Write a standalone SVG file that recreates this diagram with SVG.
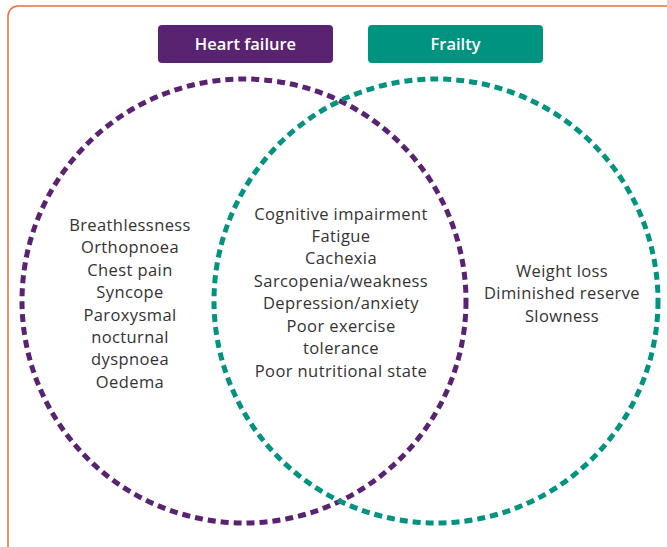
<svg xmlns="http://www.w3.org/2000/svg" width="667" height="547" viewBox="0 0 667 547">
  <style>
    .frame { fill: #ffffff; stroke: #e8703a; stroke-width: 1.5; }
    .ring { fill: none; stroke-width: 5; stroke-dasharray: 8 5; }
    .hf { stroke: #5a2371; }
    .fr { stroke: #00937f; }
    .tag { stroke: none; }
    .tag-text { font-family: "Open Sans", "Liberation Sans", sans-serif; font-size: 16.5px; font-weight: 600; fill: #ffffff; text-anchor: middle; }
    .item { font-family: "Open Sans", "Liberation Sans", sans-serif; font-size: 16.5px; letter-spacing: 0.4px; fill: #333333; text-anchor: middle; }
  </style>

  <rect class="frame" x="8" y="6" width="680" height="560" rx="10" ry="10"/>

  <g id="circles">
    <circle class="ring hf" cx="244" cy="301" r="222"/>
    <circle class="ring fr" cx="436" cy="301" r="222"/>
  </g>

  <g id="heart-failure-label">
    <rect class="tag" x="158" y="25" width="175" height="38" rx="4" fill="#5a2371"/>
    <text class="tag-text" x="245.5" y="50">Heart failure</text>
  </g>

  <g id="frailty-label">
    <rect class="tag" x="368" y="25" width="175" height="38" rx="4" fill="#00937f"/>
    <text class="tag-text" x="455.5" y="50">Frailty</text>
  </g>

  <g id="heart-failure-items">
    <text class="item" x="130" y="231">Breathlessness</text>
    <text class="item" x="130" y="253">Orthopnoea</text>
    <text class="item" x="130" y="276">Chest pain</text>
    <text class="item" x="130" y="298">Syncope</text>
    <text class="item" x="130" y="321">Paroxysmal</text>
    <text class="item" x="130" y="343">nocturnal</text>
    <text class="item" x="130" y="365">dyspnoea</text>
    <text class="item" x="130" y="388">Oedema</text>
  </g>

  <g id="shared-items">
    <text class="item" x="341" y="220">Cognitive impairment</text>
    <text class="item" x="341" y="242">Fatigue</text>
    <text class="item" x="341" y="264">Cachexia</text>
    <text class="item" x="341" y="287">Sarcopenia/weakness</text>
    <text class="item" x="341" y="309">Depression/anxiety</text>
    <text class="item" x="341" y="332">Poor exercise</text>
    <text class="item" x="341" y="354">tolerance</text>
    <text class="item" x="341" y="377">Poor nutritional state</text>
  </g>

  <g id="frailty-items">
    <text class="item" x="562" y="277">Weight loss</text>
    <text class="item" x="562" y="299">Diminished reserve</text>
    <text class="item" x="562" y="322">Slowness</text>
  </g>
</svg>
